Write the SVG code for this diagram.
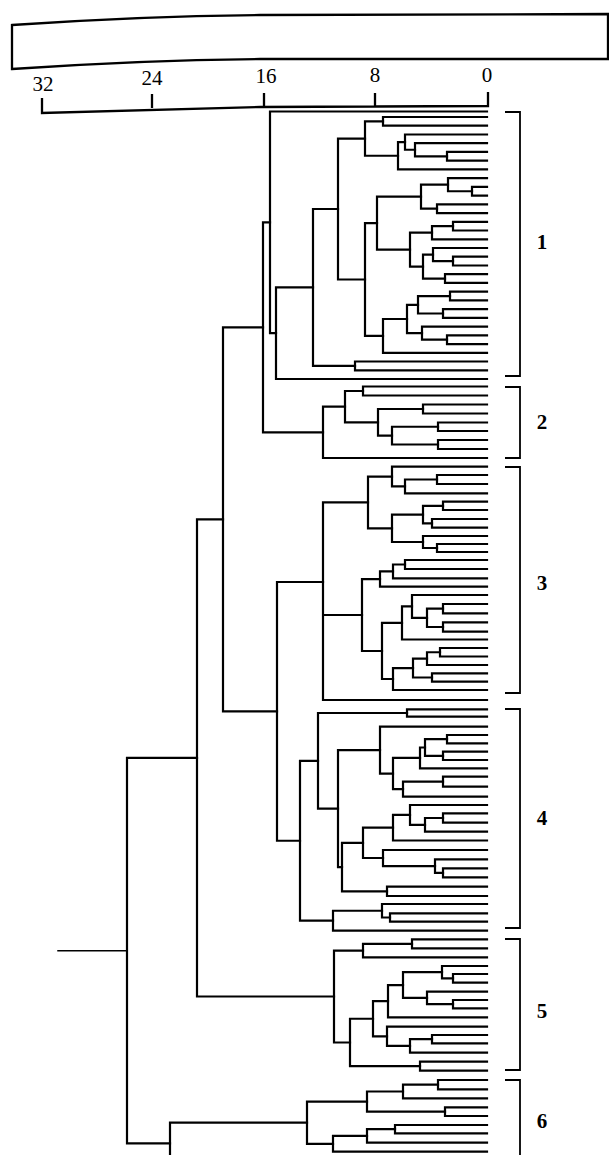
<svg xmlns="http://www.w3.org/2000/svg" width="609" height="1155" viewBox="0 0 609 1155">
<style>
.t{fill:none;stroke:#000;stroke-width:2.2;stroke-linejoin:miter;stroke-linecap:square}
.b{fill:none;stroke:#000;stroke-width:1.8}
.h{fill:none;stroke:#000;stroke-width:2.3}
.s{font-family:"Liberation Serif","Times New Roman",serif;font-size:21px;fill:#000;text-anchor:middle}
.c{font-family:"Liberation Serif","Times New Roman",serif;font-size:21px;font-weight:bold;fill:#000;text-anchor:middle}
</style>
<rect width="609" height="1155" fill="#fff"/>
<g id="header">
<path class="h" d="M12 25 Q140 16 260 15 L608 14 L608 59 L260 59 Q140 60 12 69 Z"/>
<path class="h" d="M42 98 V113 L260 107 L488 106 V92 M152 94 V108 M264 93 V107 M375 93 V106"/>
<text class="s" x="43" y="91">32</text>
<text class="s" x="152" y="85">24</text>
<text class="s" x="266" y="83">16</text>
<text class="s" x="375" y="82">8</text>
<text class="s" x="487" y="82">0</text>
</g>
<g id="connectors">
<g id="cluster-1" class="t">
<path d="M487 117 H383 V125.7 H487"/>
<path d="M487 151.9 H447 V160.7 H487"/>
<path d="M487 143.2 H415 V156.3 H447"/>
<path d="M487 134.5 H405 V149.75 H415"/>
<path d="M405 142.1 H398 V169.4 H487"/>
<path d="M383 121.35 H365 V155.75 H398"/>
<path d="M487 186.9 H472 V195.6 H487"/>
<path d="M487 178.1 H448 V191.25 H472"/>
<path d="M487 204.3 H437 V213.1 H487"/>
<path d="M448 184.7 H421 V208.7 H437"/>
<path d="M487 221.8 H453 V230.5 H487"/>
<path d="M453 226.15 H432 V239.3 H487"/>
<path d="M487 256.7 H453 V265.5 H487"/>
<path d="M487 248 H433 V261.1 H453"/>
<path d="M487 274.2 H445 V282.9 H487"/>
<path d="M433 254.55 H423 V278.55 H445"/>
<path d="M432 232.7 H410 V266.55 H423"/>
<path d="M421 196.7 H377 V249.6 H410"/>
<path d="M487 291.7 H450 V300.4 H487"/>
<path d="M487 309.1 H443 V317.9 H487"/>
<path d="M450 296.05 H418 V313.5 H443"/>
<path d="M487 335.3 H447 V344.1 H487"/>
<path d="M487 326.6 H422 V339.7 H447"/>
<path d="M418 304.8 H407 V333.15 H422"/>
<path d="M407 318.98 H383 V352.8 H487"/>
<path d="M377 223.15 H365 V335.9 H383"/>
<path d="M365 138.55 H338 V279.5 H365"/>
<path d="M487 361.5 H355 V370.3 H487"/>
<path d="M338 209 H313 V365.9 H355"/>
<path d="M313 287.45 H276 V379 H487"/>
<path d="M487 111.5 H270 V333.2 H276"/>
</g>
<g id="cluster-2" class="t">
<path d="M487 386.5 H363 V395.5 H487"/>
<path d="M487 404.5 H423 V413.5 H487"/>
<path d="M487 422.5 H438 V431 H487"/>
<path d="M487 440 H438 V449 H487"/>
<path d="M438 426.75 H392 V444.5 H438"/>
<path d="M423 409 H378 V435.6 H392"/>
<path d="M363 391 H345 V422.3 H378"/>
<path d="M345 406.65 H323 V458 H487"/>
</g>
<g id="cluster-3" class="t">
<path d="M487 475 H437 V484 H487"/>
<path d="M437 479.5 H405 V493.3 H487"/>
<path d="M487 466.7 H392 V486.4 H405"/>
<path d="M487 501.7 H443 V510 H487"/>
<path d="M487 519 H432 V527.7 H487"/>
<path d="M443 505.85 H423 V523.35 H432"/>
<path d="M487 544 H437 V552 H487"/>
<path d="M487 536 H423 V548 H437"/>
<path d="M423 514.6 H392 V542 H423"/>
<path d="M392 476.55 H368 V528.3 H392"/>
<path d="M487 560 H405 V569 H487"/>
<path d="M405 564.5 H393 V578.3 H487"/>
<path d="M393 571.4 H380 V586.7 H487"/>
<path d="M487 604 H443 V613.3 H487"/>
<path d="M487 622.3 H443 V631.7 H487"/>
<path d="M443 608.65 H427 V627 H443"/>
<path d="M487 595 H412 V617.8 H427"/>
<path d="M412 606.4 H402 V639.5 H487"/>
<path d="M487 648 H440 V656.5 H487"/>
<path d="M440 652.25 H427 V665 H487"/>
<path d="M487 673.3 H432 V681.7 H487"/>
<path d="M427 658.6 H413 V677.5 H432"/>
<path d="M413 668.05 H393 V690 H487"/>
<path d="M402 622.95 H382 V679 H393"/>
<path d="M380 579.05 H362 V651 H382"/>
<path d="M368 502.4 H323 V700 H487 M323 615 H362"/>
</g>
<g id="cluster-4" class="t">
<path d="M487 709.3 H407 V716.7 H487"/>
<path d="M487 735 H447 V743.3 H487"/>
<path d="M487 751.7 H443 V760 H487"/>
<path d="M447 739.15 H425 V755.85 H443"/>
<path d="M425 747.5 H420 V768.3 H487"/>
<path d="M487 776.7 H443 V786.7 H487"/>
<path d="M443 781.7 H403 V796.7 H487"/>
<path d="M420 757.9 H393 V789.2 H403"/>
<path d="M487 726.7 H380 V773.55 H393"/>
<path d="M487 813.3 H443 V822.7 H487"/>
<path d="M443 818 H425 V831.7 H487"/>
<path d="M487 805 H410 V824.85 H425"/>
<path d="M410 814.9 H393 V840.5 H487"/>
<path d="M487 868.3 H443 V877.3 H487"/>
<path d="M487 859.3 H435 V872.8 H443"/>
<path d="M487 850 H383 V866.05 H435"/>
<path d="M393 827.7 H363 V858 H383"/>
<path d="M487 886.7 H387 V896 H487"/>
<path d="M363 842.85 H342 V891.35 H387"/>
<path d="M380 750.1 H338 V867.1 H342"/>
<path d="M407 713 H318 V808.6 H338"/>
<path d="M487 913.3 H390 V921.7 H487"/>
<path d="M487 904 H382 V917.5 H390"/>
<path d="M382 910.75 H333 V930.7 H487"/>
<path d="M318 760.8 H300 V920.7 H333"/>
</g>
<g id="cluster-5" class="t">
<path d="M487 939.3 H412 V948.3 H487"/>
<path d="M412 943.8 H363 V957.3 H487"/>
<path d="M487 974 H453 V982.7 H487"/>
<path d="M487 966 H442 V978.35 H453"/>
<path d="M487 1000 H453 V1008.3 H487"/>
<path d="M487 991.7 H427 V1004.15 H453"/>
<path d="M442 972.2 H403 V997.9 H427"/>
<path d="M403 985.05 H388 V1017.3 H487"/>
<path d="M487 1035 H432 V1043.3 H487"/>
<path d="M432 1039.15 H410 V1052.7 H487"/>
<path d="M487 1026.7 H387 V1045.9 H410"/>
<path d="M388 1001.2 H373 V1036.3 H387"/>
<path d="M487 1061.7 H420 V1070.7 H487"/>
<path d="M373 1018.75 H350 V1066.2 H420"/>
<path d="M363 950.55 H334 V1042.5 H350"/>
</g>
<g id="cluster-6" class="t">
<path d="M487 1080 H438 V1089.3 H487"/>
<path d="M438 1084.65 H403 V1098.3 H487"/>
<path d="M487 1107.3 H445 V1116 H487"/>
<path d="M403 1091.5 H367 V1111.65 H445"/>
<path d="M487 1125 H395 V1133.3 H487"/>
<path d="M395 1129.15 H367 V1142.7 H487"/>
<path d="M367 1135.9 H333 V1151.7 H487"/>
<path d="M367 1101.6 H307 V1143.8 H333"/>
</g>
<g id="links" class="t">
<path d="M270 222.35 H263 V432.3 H323"/>
<path d="M323 582 H277 V840.75 H300"/>
<path d="M263 327.3 H223 V711.4 H277"/>
<path d="M223 519.35 H197 V996.5 H334"/>
<path d="M307 1122.7 H170 V1165"/>
<path d="M197 757.9 H127 V1143.4 H170"/>
<path d="M58 950.65 H127" style="stroke-width:1.5"/>
</g>
</g>
<g id="groups">
<g id="group-1"><path class="b" d="M505 112 H520 V376 H505"/><text class="c" x="542" y="249">1</text></g>
<g id="group-2"><path class="b" d="M505 387 H520 V458 H505"/><text class="c" x="542" y="429">2</text></g>
<g id="group-3"><path class="b" d="M505 467 H520 V693 H505"/><text class="c" x="542" y="590">3</text></g>
<g id="group-4"><path class="b" d="M505 709 H520 V928 H505"/><text class="c" x="542" y="825">4</text></g>
<g id="group-5"><path class="b" d="M505 939 H520 V1070 H505"/><text class="c" x="542" y="1018">5</text></g>
<g id="group-6"><path class="b" d="M505 1080 H520 V1160"/><text class="c" x="542" y="1128">6</text></g>
</g>
</svg>
